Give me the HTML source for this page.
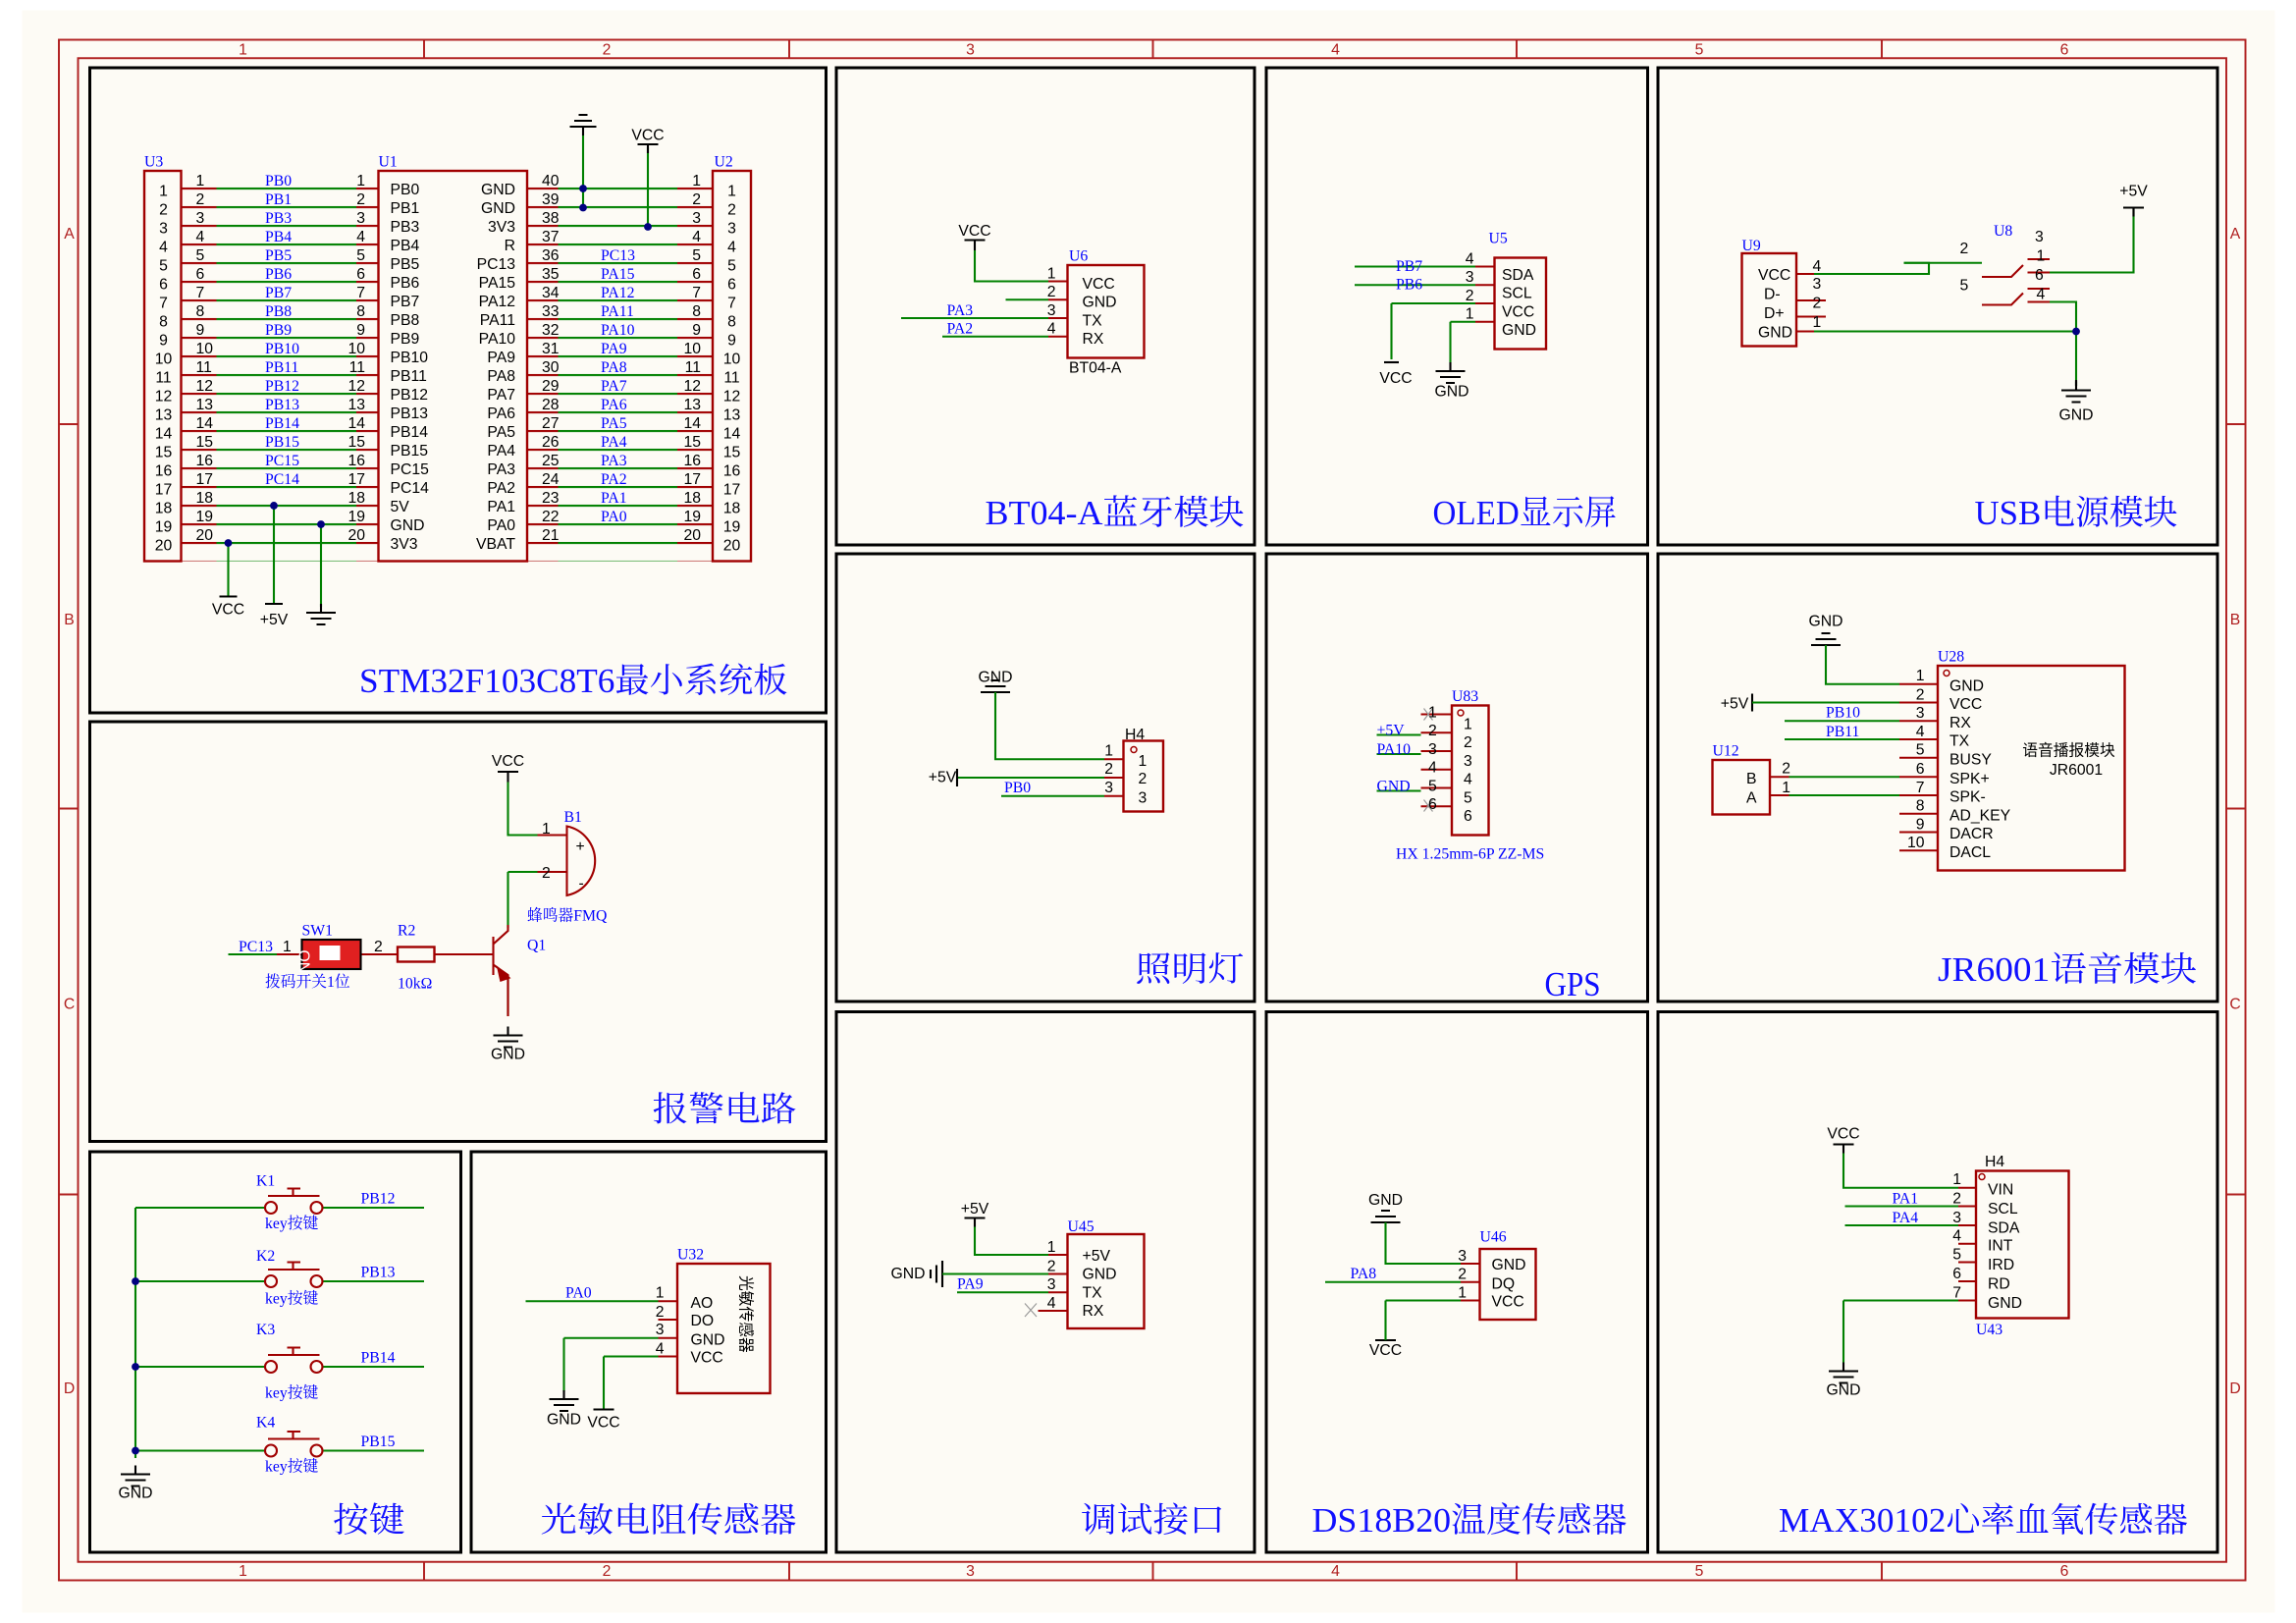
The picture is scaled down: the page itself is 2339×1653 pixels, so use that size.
<!DOCTYPE html>
<html><head><meta charset="utf-8"><style>
html,body{margin:0;padding:0;background:#fff}
svg{display:block}
text{font-family:"Liberation Sans","Noto Sans CJK SC",sans-serif;font-size:10.5px;fill:#000}
.b{fill:#0000ff;font-family:"Liberation Serif","Noto Serif CJK SC",serif}
.t{fill:#1010ff;font-family:"Liberation Serif","Noto Serif CJK SC",serif;font-size:23px;text-anchor:end}
.r{fill:#a00000;font-size:10px}
.e{text-anchor:end}.m{text-anchor:middle}
.g{stroke:#008000;stroke-width:1.4;fill:none}
.p{stroke:#a00000;stroke-width:1.4;fill:none}
.k{stroke:#000;stroke-width:1.4;fill:none}
.bx{stroke:#a00000;stroke-width:1.6;fill:none}
.pn{stroke:#000;stroke-width:2;fill:none}
</style></head><body>
<svg width="2339" height="1653" viewBox="0 0 1559.33 1102" preserveAspectRatio="none" xmlns="http://www.w3.org/2000/svg">
<defs>
<g id="gnd"><path class="k" d="M0 0V6M-10 6H10M-7 10H7M-3 14H3"/></g>
<pattern id="gl" patternUnits="userSpaceOnUse" x="0" y="127.3" width="10" height="12.667"><rect width="10" height="1.4" fill="#008000"/></pattern>
<pattern id="rl" patternUnits="userSpaceOnUse" x="0" y="127.3" width="10" height="12.667"><rect width="10" height="1.4" fill="#a00000"/></pattern>
</defs>
<rect x="15" y="7" width="1530" height="1088" fill="#fdfbf5"/>
<!-- frame -->
<rect x="40" y="27" width="1485" height="1046" fill="none" stroke="#b02020" stroke-width="1.3"/>
<rect x="53" y="39.5" width="1459" height="1021" fill="none" stroke="#b02020" stroke-width="1.3"/>
<path stroke="#b02020" stroke-width="1.3" d="M288 27V39.5M536 27V39.5M783 27V39.5M1030 27V39.5M1278 27V39.5M288 1060V1073M536 1060V1073M783 1060V1073M1030 1060V1073M1278 1060V1073M40 288H53M40 549H53M40 811H53M1512 288H1525M1512 549H1525M1512 811H1525"/>
<g fill="#b02020" font-size="10" text-anchor="middle">
<text x="165" y="37" style="fill:#b02020">1</text><text x="412" y="37" style="fill:#b02020">2</text><text x="659" y="37" style="fill:#b02020">3</text><text x="907" y="37" style="fill:#b02020">4</text><text x="1154" y="37" style="fill:#b02020">5</text><text x="1402" y="37" style="fill:#b02020">6</text>
<text x="165" y="1070" style="fill:#b02020">1</text><text x="412" y="1070" style="fill:#b02020">2</text><text x="659" y="1070" style="fill:#b02020">3</text><text x="907" y="1070" style="fill:#b02020">4</text><text x="1154" y="1070" style="fill:#b02020">5</text><text x="1402" y="1070" style="fill:#b02020">6</text>
<text x="47" y="162" style="fill:#b02020">A</text><text x="47" y="424" style="fill:#b02020">B</text><text x="47" y="685" style="fill:#b02020">C</text><text x="47" y="946" style="fill:#b02020">D</text>
<text x="1518" y="162" style="fill:#b02020">A</text><text x="1518" y="424" style="fill:#b02020">B</text><text x="1518" y="685" style="fill:#b02020">C</text><text x="1518" y="946" style="fill:#b02020">D</text>
</g>
<!-- panels -->
<g class="pn">
<rect x="61" y="46" width="500" height="438"/><rect x="568" y="46" width="284" height="324"/><rect x="860" y="46" width="259" height="324"/><rect x="1126" y="46" width="380" height="324"/>
<rect x="61" y="490" width="500" height="285"/><rect x="568" y="376" width="284" height="304"/><rect x="860" y="376" width="259" height="304"/><rect x="1126" y="376" width="380" height="304"/>
<rect x="61" y="782" width="252" height="272"/><rect x="320" y="782" width="241" height="272"/><rect x="568" y="687" width="284" height="367"/><rect x="860" y="687" width="259" height="367"/><rect x="1126" y="687" width="380" height="367"/>
</g>
<!-- STM32 -->
<rect x="123" y="127" width="24" height="254" fill="url(#rl)"/><rect x="147" y="127" width="95" height="254" fill="url(#gl)"/><rect x="242" y="127" width="15" height="254" fill="url(#rl)"/>
<rect x="358" y="127" width="21" height="254" fill="url(#rl)"/><rect x="379" y="127" width="81" height="254" fill="url(#gl)"/><rect x="460" y="127" width="24" height="254" fill="url(#rl)"/>
<rect x="98" y="116" width="25" height="265" class="bx"/><rect x="257" y="116" width="101" height="265" class="bx"/><rect x="484" y="116" width="26" height="265" class="bx"/>
<text class="b" x="98" y="113">U3</text><text class="b" x="257" y="113">U1</text><text class="b" x="485" y="113">U2</text>
<path class="g" d="M396 92V141M440 100V154M186 343V410M218 356V412M155 369V405"/>
<path class="k" d="M396 92V86M387 86H405M390 82H402M393 78H399M433 98H447M440 98V104M149 405H161M180 410H192"/>
<use href="#gnd" x="218" y="410"/>
<text x="440" y="95" class="m" font-size="10">VCC</text><text x="155" y="417" class="m" font-size="10">VCC</text><text x="186" y="424" class="m" font-size="10">+5V</text>
<g fill="#000080"><circle cx="396" cy="128" r="2.6"/><circle cx="396" cy="141" r="2.6"/><circle cx="440" cy="154" r="2.6"/><circle cx="186" cy="343.3" r="2.6"/><circle cx="218" cy="356" r="2.6"/><circle cx="155" cy="368.7" r="2.6"/></g>
<text class="m"><tspan x="111" y="133">1</tspan><tspan x="111" y="145.7">2</tspan><tspan x="111" y="158.3">3</tspan><tspan x="111" y="171">4</tspan><tspan x="111" y="183.7">5</tspan><tspan x="111" y="196.3">6</tspan><tspan x="111" y="209">7</tspan><tspan x="111" y="221.7">8</tspan><tspan x="111" y="234.3">9</tspan><tspan x="111" y="247">10</tspan><tspan x="111" y="259.7">11</tspan><tspan x="111" y="272.3">12</tspan><tspan x="111" y="285">13</tspan><tspan x="111" y="297.7">14</tspan><tspan x="111" y="310.3">15</tspan><tspan x="111" y="323">16</tspan><tspan x="111" y="335.7">17</tspan><tspan x="111" y="348.3">18</tspan><tspan x="111" y="361">19</tspan><tspan x="111" y="373.7">20</tspan></text>
<text class="m"><tspan x="497" y="133">1</tspan><tspan x="497" y="145.7">2</tspan><tspan x="497" y="158.3">3</tspan><tspan x="497" y="171">4</tspan><tspan x="497" y="183.7">5</tspan><tspan x="497" y="196.3">6</tspan><tspan x="497" y="209">7</tspan><tspan x="497" y="221.7">8</tspan><tspan x="497" y="234.3">9</tspan><tspan x="497" y="247">10</tspan><tspan x="497" y="259.7">11</tspan><tspan x="497" y="272.3">12</tspan><tspan x="497" y="285">13</tspan><tspan x="497" y="297.7">14</tspan><tspan x="497" y="310.3">15</tspan><tspan x="497" y="323">16</tspan><tspan x="497" y="335.7">17</tspan><tspan x="497" y="348.3">18</tspan><tspan x="497" y="361">19</tspan><tspan x="497" y="373.7">20</tspan></text>
<text><tspan x="133" y="126">1</tspan><tspan x="133" y="138.7">2</tspan><tspan x="133" y="151.3">3</tspan><tspan x="133" y="164">4</tspan><tspan x="133" y="176.7">5</tspan><tspan x="133" y="189.3">6</tspan><tspan x="133" y="202">7</tspan><tspan x="133" y="214.7">8</tspan><tspan x="133" y="227.3">9</tspan><tspan x="133" y="240">10</tspan><tspan x="133" y="252.7">11</tspan><tspan x="133" y="265.3">12</tspan><tspan x="133" y="278">13</tspan><tspan x="133" y="290.7">14</tspan><tspan x="133" y="303.3">15</tspan><tspan x="133" y="316">16</tspan><tspan x="133" y="328.7">17</tspan><tspan x="133" y="341.3">18</tspan><tspan x="133" y="354">19</tspan><tspan x="133" y="366.7">20</tspan></text>
<text class="e"><tspan x="248" y="126">1</tspan><tspan x="248" y="138.7">2</tspan><tspan x="248" y="151.3">3</tspan><tspan x="248" y="164">4</tspan><tspan x="248" y="176.7">5</tspan><tspan x="248" y="189.3">6</tspan><tspan x="248" y="202">7</tspan><tspan x="248" y="214.7">8</tspan><tspan x="248" y="227.3">9</tspan><tspan x="248" y="240">10</tspan><tspan x="248" y="252.7">11</tspan><tspan x="248" y="265.3">12</tspan><tspan x="248" y="278">13</tspan><tspan x="248" y="290.7">14</tspan><tspan x="248" y="303.3">15</tspan><tspan x="248" y="316">16</tspan><tspan x="248" y="328.7">17</tspan><tspan x="248" y="341.3">18</tspan><tspan x="248" y="354">19</tspan><tspan x="248" y="366.7">20</tspan></text>
<text class="b"><tspan x="180" y="126">PB0</tspan><tspan x="180" y="138.7">PB1</tspan><tspan x="180" y="151.3">PB3</tspan><tspan x="180" y="164">PB4</tspan><tspan x="180" y="176.7">PB5</tspan><tspan x="180" y="189.3">PB6</tspan><tspan x="180" y="202">PB7</tspan><tspan x="180" y="214.7">PB8</tspan><tspan x="180" y="227.3">PB9</tspan><tspan x="180" y="240">PB10</tspan><tspan x="180" y="252.7">PB11</tspan><tspan x="180" y="265.3">PB12</tspan><tspan x="180" y="278">PB13</tspan><tspan x="180" y="290.7">PB14</tspan><tspan x="180" y="303.3">PB15</tspan><tspan x="180" y="316">PC15</tspan><tspan x="180" y="328.7">PC14</tspan></text>
<text><tspan x="265" y="132">PB0</tspan><tspan x="265" y="144.7">PB1</tspan><tspan x="265" y="157.3">PB3</tspan><tspan x="265" y="170">PB4</tspan><tspan x="265" y="182.7">PB5</tspan><tspan x="265" y="195.3">PB6</tspan><tspan x="265" y="208">PB7</tspan><tspan x="265" y="220.7">PB8</tspan><tspan x="265" y="233.3">PB9</tspan><tspan x="265" y="246">PB10</tspan><tspan x="265" y="258.7">PB11</tspan><tspan x="265" y="271.3">PB12</tspan><tspan x="265" y="284">PB13</tspan><tspan x="265" y="296.7">PB14</tspan><tspan x="265" y="309.3">PB15</tspan><tspan x="265" y="322">PC15</tspan><tspan x="265" y="334.7">PC14</tspan><tspan x="265" y="347.3">5V</tspan><tspan x="265" y="360">GND</tspan><tspan x="265" y="372.7">3V3</tspan></text>
<text class="e"><tspan x="350" y="132">GND</tspan><tspan x="350" y="144.7">GND</tspan><tspan x="350" y="157.3">3V3</tspan><tspan x="350" y="170">R</tspan><tspan x="350" y="182.7">PC13</tspan><tspan x="350" y="195.3">PA15</tspan><tspan x="350" y="208">PA12</tspan><tspan x="350" y="220.7">PA11</tspan><tspan x="350" y="233.3">PA10</tspan><tspan x="350" y="246">PA9</tspan><tspan x="350" y="258.7">PA8</tspan><tspan x="350" y="271.3">PA7</tspan><tspan x="350" y="284">PA6</tspan><tspan x="350" y="296.7">PA5</tspan><tspan x="350" y="309.3">PA4</tspan><tspan x="350" y="322">PA3</tspan><tspan x="350" y="334.7">PA2</tspan><tspan x="350" y="347.3">PA1</tspan><tspan x="350" y="360">PA0</tspan><tspan x="350" y="372.7">VBAT</tspan></text>
<text><tspan x="368" y="126">40</tspan><tspan x="368" y="138.7">39</tspan><tspan x="368" y="151.3">38</tspan><tspan x="368" y="164">37</tspan><tspan x="368" y="176.7">36</tspan><tspan x="368" y="189.3">35</tspan><tspan x="368" y="202">34</tspan><tspan x="368" y="214.7">33</tspan><tspan x="368" y="227.3">32</tspan><tspan x="368" y="240">31</tspan><tspan x="368" y="252.7">30</tspan><tspan x="368" y="265.3">29</tspan><tspan x="368" y="278">28</tspan><tspan x="368" y="290.7">27</tspan><tspan x="368" y="303.3">26</tspan><tspan x="368" y="316">25</tspan><tspan x="368" y="328.7">24</tspan><tspan x="368" y="341.3">23</tspan><tspan x="368" y="354">22</tspan><tspan x="368" y="366.7">21</tspan></text>
<text class="b"><tspan x="408" y="176.7">PC13</tspan><tspan x="408" y="189.3">PA15</tspan><tspan x="408" y="202">PA12</tspan><tspan x="408" y="214.7">PA11</tspan><tspan x="408" y="227.3">PA10</tspan><tspan x="408" y="240">PA9</tspan><tspan x="408" y="252.7">PA8</tspan><tspan x="408" y="265.3">PA7</tspan><tspan x="408" y="278">PA6</tspan><tspan x="408" y="290.7">PA5</tspan><tspan x="408" y="303.3">PA4</tspan><tspan x="408" y="316">PA3</tspan><tspan x="408" y="328.7">PA2</tspan><tspan x="408" y="341.3">PA1</tspan><tspan x="408" y="354">PA0</tspan></text>
<text class="e"><tspan x="476" y="126">1</tspan><tspan x="476" y="138.7">2</tspan><tspan x="476" y="151.3">3</tspan><tspan x="476" y="164">4</tspan><tspan x="476" y="176.7">5</tspan><tspan x="476" y="189.3">6</tspan><tspan x="476" y="202">7</tspan><tspan x="476" y="214.7">8</tspan><tspan x="476" y="227.3">9</tspan><tspan x="476" y="240">10</tspan><tspan x="476" y="252.7">11</tspan><tspan x="476" y="265.3">12</tspan><tspan x="476" y="278">13</tspan><tspan x="476" y="290.7">14</tspan><tspan x="476" y="303.3">15</tspan><tspan x="476" y="316">16</tspan><tspan x="476" y="328.7">17</tspan><tspan x="476" y="341.3">18</tspan><tspan x="476" y="354">19</tspan><tspan x="476" y="366.7">20</tspan></text>
<text class="t" x="535" y="470" textLength="291" lengthAdjust="spacingAndGlyphs">STM32F103C8T6最小系统板</text>
<!-- BT04 -->
<path class="k" d="M655 163H669M662 163V170"/><path class="g" d="M662 170V191H712M683 203.5H712M612 216H712M640 228.5H712"/>
<path class="p" d="M712 191H725M712 203.5H725M712 216H725M712 228.5H725"/>
<rect x="725" y="180" width="52" height="63" class="bx"/>
<text x="662" y="160" class="m" font-size="10">VCC</text><text class="b" x="726" y="177">U6</text>
<text class="e"><tspan x="717" y="189">1</tspan><tspan x="717" y="201.5">2</tspan><tspan x="717" y="214">3</tspan><tspan x="717" y="226.5">4</tspan></text>
<text><tspan x="735" y="196">VCC</tspan><tspan x="735" y="208.5">GND</tspan><tspan x="735" y="221">TX</tspan><tspan x="735" y="233.5">RX</tspan></text>
<text class="b"><tspan x="643" y="214">PA3</tspan><tspan x="643" y="226.5">PA2</tspan></text><text x="726" y="253" font-size="10">BT04-A</text>
<text class="t" x="845" y="356" textLength="176" lengthAdjust="spacingAndGlyphs">BT04-A蓝牙模块</text>
<!-- OLED -->
<path class="g" d="M920 181H1002M920 193.5H1002M945 206H1002M945 206V244M985 218.5H1002M985 218.5V246"/>
<path class="p" d="M1002 181H1015M1002 193.5H1015M1002 206H1015M1002 218.5H1015"/>
<path class="k" d="M940 246H950"/><use href="#gnd" x="985" y="246"/>
<rect x="1015" y="175" width="35" height="62" class="bx"/><text class="b" x="1011" y="165">U5</text>
<text class="e"><tspan x="1001" y="179">4</tspan><tspan x="1001" y="191.5">3</tspan><tspan x="1001" y="204">2</tspan><tspan x="1001" y="216.5">1</tspan></text>
<text><tspan x="1020" y="190">SDA</tspan><tspan x="1020" y="202.5">SCL</tspan><tspan x="1020" y="215">VCC</tspan><tspan x="1020" y="227.5">GND</tspan></text>
<text class="b"><tspan x="948" y="184">PB7</tspan><tspan x="948" y="196.5">PB6</tspan></text>
<text x="948" y="260" class="m" font-size="10">VCC</text><text x="986" y="269" class="m" font-size="8">GND</text>
<text class="t" x="1098" y="356" textLength="125" lengthAdjust="spacingAndGlyphs">OLED显示屏</text>
<!-- USB -->
<rect x="1183" y="172" width="37" height="63" class="bx"/><text class="b" x="1183" y="170">U9</text>
<path class="p" d="M1220 186H1232M1220 204H1240M1220 215H1240M1220 225H1233M1282 186H1293M1346 188H1366L1374 180M1346 207H1366L1374 199M1377 176H1392M1377 185H1392M1377 196H1392M1377 205H1392"/>
<path class="g" d="M1232 186H1310V178.5H1293M1232 225H1410V262M1392 185H1449V141M1392 205H1410V225"/>
<path class="g" d="M1293 178.5H1346"/>
<path class="k" d="M1442 141H1456M1449 141V147M1410 262V258"/><use href="#gnd" x="1410" y="259"/>
<circle cx="1410" cy="225" r="2.6" fill="#000080"/>
<text><tspan x="1194" y="190">VCC</tspan><tspan x="1198" y="203">D-</tspan><tspan x="1198" y="216">D+</tspan><tspan x="1194" y="229">GND</tspan></text>
<text><tspan x="1231" y="184">4</tspan><tspan x="1231" y="196">3</tspan><tspan x="1231" y="209">2</tspan><tspan x="1231" y="222">1</tspan><tspan x="1331" y="172">2</tspan><tspan x="1382" y="164">3</tspan><tspan x="1383" y="177">1</tspan><tspan x="1331" y="197">5</tspan><tspan x="1382" y="190">6</tspan><tspan x="1383" y="203">4</tspan></text>
<text class="b" x="1354" y="160">U8</text><text x="1449" y="133" class="m" font-size="10">+5V</text><text x="1410" y="285" class="m" font-size="10">GND</text>
<text class="t" x="1479" y="356" textLength="138" lengthAdjust="spacingAndGlyphs">USB电源模块</text>
<!-- 照明灯 -->
<path class="k" d="M666 470H686M669 466H683M673 462H679"/><path class="g" d="M676 470V515.5H750M650 528H750M680 540.5H750"/>
<path class="p" d="M750 515.5H763M750 528H763M750 540.5H763"/><path class="k" d="M650 522V534"/>
<rect x="763" y="503" width="27" height="48" class="bx"/><circle cx="770" cy="509" r="2" fill="none" stroke="#a00000"/>
<text x="676" y="463" class="m" font-size="8">GND</text><text x="640" y="531" class="m" font-size="10">+5V</text><text class="b" x="682" y="538">PB0</text>
<text class="e"><tspan x="756" y="513">1</tspan><tspan x="756" y="525.5">2</tspan><tspan x="756" y="538">3</tspan></text>
<text><tspan x="773" y="520">1</tspan><tspan x="773" y="532">2</tspan><tspan x="773" y="545">3</tspan></text><text x="764" y="502" font-size="9">H4</text>
<text class="t" x="845" y="666" textLength="74" lengthAdjust="spacingAndGlyphs">照明灯</text>
<!-- GPS -->
<rect x="986" y="479" width="25" height="88" class="bx"/><circle cx="992" cy="484" r="2" fill="none" stroke="#a00000"/>
<path class="p" d="M965 485H986M965 497.5H986M965 510H986M965 522.5H986M965 535H986M965 547.5H986"/>
<path class="g" d="M935 499H965M935 512H965M935 537H965"/>
<path stroke="#999" stroke-width="0.8" d="M967 481L973 489M973 481L967 489M967 543L973 551M973 543L967 551"/>
<text class="b" x="986" y="476">U83</text>
<text><tspan x="970" y="487">1</tspan><tspan x="970" y="499.5">2</tspan><tspan x="970" y="512">3</tspan><tspan x="970" y="524.5">4</tspan><tspan x="970" y="537">5</tspan><tspan x="970" y="549.5">6</tspan></text>
<text><tspan x="994" y="495">1</tspan><tspan x="994" y="507.5">2</tspan><tspan x="994" y="520">3</tspan><tspan x="994" y="532.5">4</tspan><tspan x="994" y="545">5</tspan><tspan x="994" y="557.5">6</tspan></text>
<text class="b"><tspan x="935" y="499">+5V</tspan><tspan x="935" y="512">PA10</tspan><tspan x="935" y="537">GND</tspan></text>
<text class="b" x="948" y="583">HX 1.25mm-6P ZZ-MS</text>
<text class="t" x="1087" y="676" textLength="38" lengthAdjust="spacingAndGlyphs">GPS</text>
<!-- JR6001 -->
<path class="k" d="M1230 438H1250M1233 434H1247M1237 430H1243M1190 471V483"/>
<path class="g" d="M1240 438V464.5H1290M1190 477H1290M1212 489.5H1290M1212 502H1290M1215 527.5H1290M1215 540H1290"/>
<path class="p" d="M1290 464.5H1316M1290 477H1316M1290 489.5H1316M1290 502H1316M1290 514.5H1316M1290 527.5H1316M1290 540H1316M1290 552.5H1316M1290 565H1316M1290 577.5H1316M1202 527.5H1215M1202 540H1215"/>
<rect x="1316" y="452" width="127" height="139" class="bx"/><rect x="1163" y="516" width="39" height="37" class="bx"/>
<circle cx="1322" cy="457" r="2" fill="none" stroke="#a00000"/>
<text x="1240" y="425" class="m" font-size="8">GND</text><text x="1178" y="481" class="m" font-size="10">+5V</text>
<text class="b" x="1316" y="449">U28</text><text class="b" x="1163" y="513">U12</text>
<text class="b"><tspan x="1240" y="487">PB10</tspan><tspan x="1240" y="500">PB11</tspan></text>
<text class="e"><tspan x="1307" y="462">1</tspan><tspan x="1307" y="475">2</tspan><tspan x="1307" y="487.5">3</tspan><tspan x="1307" y="500">4</tspan><tspan x="1307" y="512.5">5</tspan><tspan x="1307" y="525.5">6</tspan><tspan x="1307" y="538">7</tspan><tspan x="1307" y="550.5">8</tspan><tspan x="1307" y="563">9</tspan><tspan x="1307" y="575.5">10</tspan><tspan x="1216" y="525">2</tspan><tspan x="1216" y="538">1</tspan></text>
<text font-family="Liberation Serif"><tspan x="1324" y="469">GND</tspan><tspan x="1324" y="481.5">VCC</tspan><tspan x="1324" y="494">RX</tspan><tspan x="1324" y="506.5">TX</tspan><tspan x="1324" y="519">BUSY</tspan><tspan x="1324" y="532">SPK+</tspan><tspan x="1324" y="544.5">SPK-</tspan><tspan x="1324" y="557">AD_KEY</tspan><tspan x="1324" y="569.5">DACR</tspan><tspan x="1324" y="582">DACL</tspan></text>
<text x="1405" y="513" class="m">语音播报模块</text><text x="1410" y="526" class="m">JR6001</text>
<text><tspan x="1186" y="532">B</tspan><tspan x="1186" y="545">A</tspan></text>
<text class="t" x="1492" y="666" textLength="176" lengthAdjust="spacingAndGlyphs">JR6001语音模块</text>
<!-- 报警 -->
<path class="k" d="M338 524H352M345 524V531"/><use href="#gnd" x="345" y="697"/>
<path class="g" d="M345 531V567H365M345 592H365M345 592V630M155 648H188M250 648H270M295 648H320M345 662V690"/>
<path class="p" d="M365 567H385M365 592H385M188 648H205M245 648H270M295 648H335M335 636V662M335 641L345 632V628M335 655L345 662V690"/>
<path d="M338 657L346 664L340 666Z" fill="#a00000" stroke="#a00000"/>
<path class="p" d="M385 561V608A24 24 0 0 0 385 561Z"/>
<rect x="270" y="643" width="25" height="10" class="bx"/>
<rect x="205" y="638" width="40" height="20" fill="#e02020" stroke="#000" stroke-width="1.4"/><rect x="217" y="642" width="14" height="10" fill="#fff"/>
<text x="207" y="655" font-size="6" fill="#fff" style="fill:#fff" transform="rotate(90 210 648)">ON</text>
<text x="345" y="520" class="m" font-size="10">VCC</text><text x="345" y="719" class="m" font-size="8">GND</text>
<text><tspan x="368" y="566">1</tspan><tspan x="368" y="596">2</tspan><tspan x="192" y="646">1</tspan><tspan x="254" y="646">2</tspan><tspan x="391" y="578">+</tspan><tspan x="393" y="603">-</tspan></text>
<text class="b"><tspan x="383" y="558">B1</tspan><tspan x="358" y="625">蜂鸣器FMQ</tspan><tspan x="358" y="645">Q1</tspan><tspan x="270" y="635">R2</tspan><tspan x="270" y="671">10kΩ</tspan><tspan x="205" y="635">SW1</tspan><tspan x="162" y="646">PC13</tspan><tspan x="180" y="670">拨码开关1位</tspan></text>
<text class="t" x="541" y="761" textLength="98" lengthAdjust="spacingAndGlyphs">报警电路</text>
<!-- 按键 -->
<path class="g" d="M92 820V990M92 820H180M92 870H180M92 928H180M92 985H180M219 820H288M219 870H288M219 928H288M219 985H288"/>
<g class="p"><circle cx="184" cy="820" r="4"/><circle cx="215" cy="820" r="4"/><path d="M182 812H217M199 812V807H195H204"/>
<circle cx="184" cy="870" r="4"/><circle cx="215" cy="870" r="4"/><path d="M182 862H217M199 862V857H195H204"/>
<circle cx="184" cy="928" r="4"/><circle cx="215" cy="928" r="4"/><path d="M182 920H217M199 920V915H195H204"/>
<circle cx="184" cy="985" r="4"/><circle cx="215" cy="985" r="4"/><path d="M182 977H217M199 977V972H195H204"/></g>
<g fill="#000080"><circle cx="92" cy="870" r="2.6"/><circle cx="92" cy="928" r="2.6"/><circle cx="92" cy="985" r="2.6"/></g>
<use href="#gnd" x="92" y="995"/><text x="92" y="1017" class="m" font-size="8">GND</text>
<text class="b"><tspan x="174" y="805">K1</tspan><tspan x="180" y="834">key按键</tspan><tspan x="245" y="817">PB12</tspan><tspan x="174" y="856">K2</tspan><tspan x="180" y="885">key按键</tspan><tspan x="245" y="867">PB13</tspan><tspan x="174" y="906">K3</tspan><tspan x="180" y="949">key按键</tspan><tspan x="245" y="925">PB14</tspan><tspan x="174" y="969">K4</tspan><tspan x="180" y="999">key按键</tspan><tspan x="245" y="982">PB15</tspan></text>
<text class="t" x="275" y="1040" textLength="49" lengthAdjust="spacingAndGlyphs">按键</text>
<!-- 光敏 -->
<rect x="460" y="858" width="63" height="88" class="bx"/><text class="b" x="460" y="855">U32</text>
<path class="g" d="M357 883.5H447M383 908.5H447M383 908.5V945M410 921H447M410 921V957"/>
<path class="p" d="M447 883.5H460M447 896H460M447 908.5H460M447 921H460"/>
<use href="#gnd" x="383" y="944"/><path class="k" d="M403 957H417"/>
<text x="383" y="967" class="m" font-size="8">GND</text><text x="410" y="969" class="m" font-size="10">VCC</text>
<text class="b" x="384" y="881">PA0</text>
<text class="e"><tspan x="451" y="881">1</tspan><tspan x="451" y="894">2</tspan><tspan x="451" y="906">3</tspan><tspan x="451" y="919">4</tspan></text>
<text font-family="Liberation Serif"><tspan x="469" y="888">AO</tspan><tspan x="469" y="900">DO</tspan><tspan x="469" y="913">GND</tspan><tspan x="469" y="925">VCC</tspan></text>
<text x="503" y="866" font-size="10" transform="rotate(90 503 866)">光敏传感器</text>
<text class="t" x="541" y="1040" textLength="174" lengthAdjust="spacingAndGlyphs">光敏电阻传感器</text>
<!-- 调试 -->
<rect x="725" y="838" width="52" height="64" class="bx"/><text class="b" x="725" y="836">U45</text>
<path class="k" d="M655 827H669M662 827V833M640 856V874M636 859V871M632 862V868"/>
<path class="g" d="M662 833V852H712M640 865H712M650 877.5H712"/>
<path class="p" d="M712 852H725M712 865H725M712 877.5H725M705 890H725"/>
<path stroke="#999" stroke-width="0.8" d="M696 885L704 894M704 885L696 894"/>
<text x="662" y="824" class="m" font-size="10">+5V</text><text x="605" y="868" font-size="8">GND</text><text class="b" x="650" y="875">PA9</text>
<text class="e"><tspan x="717" y="850">1</tspan><tspan x="717" y="863">2</tspan><tspan x="717" y="875.5">3</tspan><tspan x="717" y="888">4</tspan></text>
<text><tspan x="735" y="856">+5V</tspan><tspan x="735" y="868.5">GND</tspan><tspan x="735" y="881">TX</tspan><tspan x="735" y="893.5">RX</tspan></text>
<text class="t" x="832" y="1040" textLength="98" lengthAdjust="spacingAndGlyphs">调试接口</text>
<!-- DS18B20 -->
<rect x="1005" y="848" width="38" height="48" class="bx"/><text class="b" x="1005" y="843">U46</text>
<path class="k" d="M931 830H951M934 826H948M938 822H944M934 910H948"/>
<path class="g" d="M941 830V858H992M900 870.5H992M941 883H992M941 883V910"/>
<path class="p" d="M992 858H1005M992 870.5H1005M992 883H1005"/>
<text x="941" y="818" class="m" font-size="8">GND</text><text x="941" y="920" class="m" font-size="10">VCC</text><text class="b" x="917" y="868">PA8</text>
<text class="e"><tspan x="996" y="856">3</tspan><tspan x="996" y="868.5">2</tspan><tspan x="996" y="881">1</tspan></text>
<text font-family="Liberation Serif"><tspan x="1013" y="862">GND</tspan><tspan x="1013" y="875">DQ</tspan><tspan x="1013" y="887">VCC</tspan></text>
<text class="t" x="1105" y="1040" textLength="214" lengthAdjust="spacingAndGlyphs">DS18B20温度传感器</text>
<!-- MAX -->
<rect x="1342" y="795" width="63" height="100" class="bx"/><circle cx="1346" cy="799" r="2" fill="none" stroke="#a00000"/>
<path class="k" d="M1245 777H1259M1252 777V783"/><use href="#gnd" x="1252" y="925"/>
<path class="g" d="M1252 783V806.5H1330M1253 819H1330M1253 832H1330M1252 883H1330M1252 883V925"/>
<path class="p" d="M1330 806.5H1342M1330 819H1342M1330 832H1342M1330 844.5H1342M1330 857H1342M1330 870H1342M1330 883H1342"/>
<text x="1252" y="773" class="m" font-size="10">VCC</text><text x="1252" y="947" class="m" font-size="8">GND</text>
<text class="b"><tspan x="1285" y="817">PA1</tspan><tspan x="1285" y="830">PA4</tspan></text>
<text x="1348" y="792" font-size="10">H4</text><text class="b" x="1342" y="906">U43</text>
<text class="e"><tspan x="1332" y="804">1</tspan><tspan x="1332" y="817">2</tspan><tspan x="1332" y="830">3</tspan><tspan x="1332" y="842.5">4</tspan><tspan x="1332" y="855">5</tspan><tspan x="1332" y="868">6</tspan><tspan x="1332" y="881">7</tspan></text>
<text font-family="Liberation Serif"><tspan x="1350" y="811">VIN</tspan><tspan x="1350" y="824">SCL</tspan><tspan x="1350" y="837">SDA</tspan><tspan x="1350" y="849">INT</tspan><tspan x="1350" y="862">IRD</tspan><tspan x="1350" y="875">RD</tspan><tspan x="1350" y="888">GND</tspan></text>
<text class="t" x="1486" y="1040" textLength="278" lengthAdjust="spacingAndGlyphs">MAX30102心率血氧传感器</text>
</svg>
</body></html>
